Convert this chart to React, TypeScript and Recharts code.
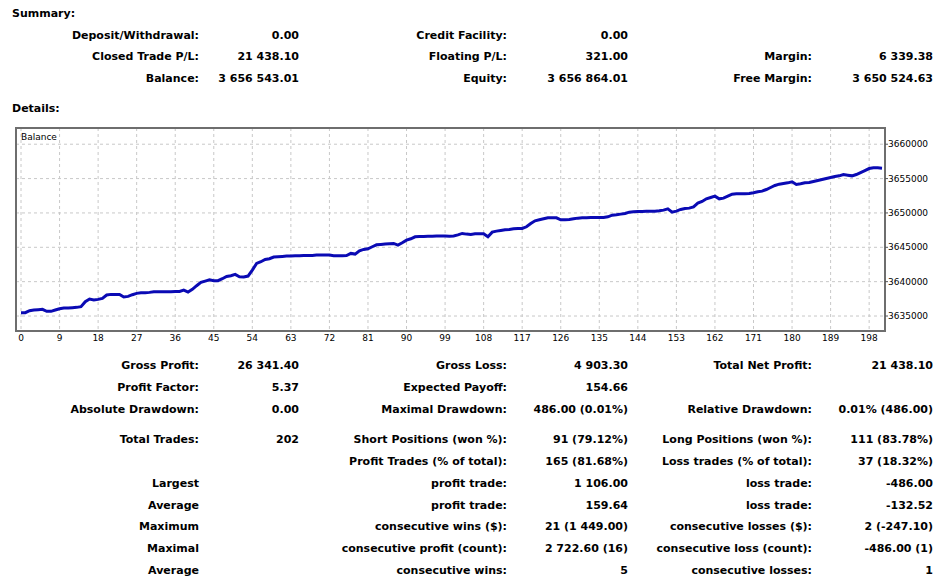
import React from 'react';
import { LineChart, Line, XAxis, YAxis, CartesianGrid, ReferenceArea } from 'recharts';

const font = "'DejaVu Sans', Verdana, sans-serif";

// balance after each closed trade
const balance: number[] = [
  3635485, 3635485, 3635775, 3635872, 3635920, 3635969, 3635678, 3635678, 3635872, 3636066,
  3636163, 3636163, 3636210, 3636260, 3636357, 3637083, 3637471, 3637326, 3637423, 3637568,
  3638052, 3638149, 3638149, 3638149, 3637762, 3637859, 3638101, 3638295, 3638392, 3638392,
  3638440, 3638537, 3638537, 3638537, 3638537, 3638537, 3638560, 3638580, 3638779, 3638488,
  3638876, 3639409, 3639893, 3640087, 3640281, 3640136, 3640136, 3640426, 3640766, 3640862,
  3641056, 3640717, 3640669, 3640814, 3641686, 3642655, 3642897, 3643237, 3643333, 3643576,
  3643624, 3643672, 3643721, 3643721, 3643770, 3643770, 3643818, 3643818, 3643818, 3643866,
  3643866, 3643866, 3643866, 3643770, 3643770, 3643770, 3643790, 3644109, 3644012, 3644496,
  3644690, 3644787, 3645078, 3645368, 3645417, 3645465, 3645514, 3645562, 3645320, 3645659,
  3646047, 3646240, 3646531, 3646580, 3646580, 3646600, 3646600, 3646628, 3646628, 3646628,
  3646600, 3646650, 3646800, 3647016, 3646919, 3646870, 3646967, 3646967, 3646967, 3646531,
  3647209, 3647355, 3647452, 3647549, 3647597, 3647694, 3647742, 3647742, 3647985, 3648469,
  3648857, 3649002, 3649147, 3649293, 3649293, 3649293, 3649002, 3649002, 3649050, 3649147,
  3649244, 3649293, 3649293, 3649320, 3649320, 3649341, 3649341, 3649438, 3649680, 3649729,
  3649826, 3649923, 3650116, 3650165, 3650213, 3650213, 3650240, 3650262, 3650262, 3650310,
  3650407, 3650601, 3650116, 3650262, 3650504, 3650649, 3650698, 3650892, 3651425, 3651667,
  3652054, 3652248, 3652442, 3652054, 3652151, 3652442, 3652733, 3652781, 3652781, 3652800,
  3652830, 3652927, 3653072, 3653169, 3653411, 3653702, 3653992, 3654186, 3654283, 3654380,
  3654525, 3654138, 3654235, 3654380, 3654428, 3654574, 3654719, 3654865, 3655010, 3655155,
  3655301, 3655397, 3655591, 3655494, 3655397, 3655591, 3655882, 3656173, 3656463, 3656560,
  3656560, 3656500,
];

const xTicks = [0, 9, 18, 27, 36, 45, 54, 63, 72, 81, 90, 99, 108, 117, 126, 135, 144, 153, 162, 171, 180, 189, 198];
const yTicks = [3635000, 3640000, 3645000, 3650000, 3655000, 3660000];

const summaryRows: string[][] = [
  ['Deposit/Withdrawal:', '0.00', 'Credit Facility:', '0.00', '', ''],
  ['Closed Trade P/L:', '21 438.10', 'Floating P/L:', '321.00', 'Margin:', '6 339.38'],
  ['Balance:', '3 656 543.01', 'Equity:', '3 656 864.01', 'Free Margin:', '3 650 524.63'],
];

const detailRows: string[][] = [
  ['Gross Profit:', '26 341.40', 'Gross Loss:', '4 903.30', 'Total Net Profit:', '21 438.10'],
  ['Profit Factor:', '5.37', 'Expected Payoff:', '154.66', '', ''],
  ['Absolute Drawdown:', '0.00', 'Maximal Drawdown:', '486.00 (0.01%)', 'Relative Drawdown:', '0.01% (486.00)'],
  ['Total Trades:', '202', 'Short Positions (won %):', '91 (79.12%)', 'Long Positions (won %):', '111 (83.78%)'],
  ['', '', 'Profit Trades (% of total):', '165 (81.68%)', 'Loss trades (% of total):', '37 (18.32%)'],
  ['Largest', '', 'profit trade:', '1 106.00', 'loss trade:', '-486.00'],
  ['Average', '', 'profit trade:', '159.64', 'loss trade:', '-132.52'],
  ['Maximum', '', 'consecutive wins ($):', '21 (1 449.00)', 'consecutive losses ($):', '2 (-247.10)'],
  ['Maximal', '', 'consecutive profit (count):', '2 722.60 (16)', 'consecutive loss (count):', '-486.00 (1)'],
  ['Average', '', 'consecutive wins:', '5', 'consecutive losses:', '1'],
];

// layout
const W = 947;
const colRight = [199, 299, 507, 628, 812, 933];
const summaryY = [35.5, 57, 78.5];
const detailY = [365.5, 387.5, 409.5, 439.5, 461.5, 483.5, 505.5, 527, 548.5, 570.5];
const xDomain = [-1.17, 201.7];
const yDomain = [3632820, 3662360];

const data = balance.map((b, i) => ({ trade: i, balance: b }));

const TextCell = ({ text, right, cy }: { text: string; right: number; cy: number }) => (
  <div style={{
    position: 'absolute', right: W - right, top: cy - 7, lineHeight: '14px', whiteSpace: 'nowrap',
  }}>{text}</div>
);

const Rows = ({ rows, ys }: { rows: string[][]; ys: number[] }) => (
  <>
    {rows.map((r, i) => r.map((t, j) => t ? (
      <TextCell key={`${i}-${j}`} text={t} right={colRight[j]} cy={ys[i]} />
    ) : null))}
  </>
);

const tickStyle = { fill: '#000', fontSize: 9, fontFamily: font, fontWeight: 'normal' as const };

export default function App() {
  return (
    <div style={{
      position: 'absolute', left: 0, top: 0, width: W, height: 581, overflow: 'hidden',
      background: '#fff', fontFamily: font, fontWeight: 'bold', fontSize: 11, color: '#000',
    }}>
      <div style={{ position: 'absolute', left: 12, top: 7, lineHeight: '14px' }}>Summary:</div>
      <Rows rows={summaryRows} ys={summaryY} />
      <div style={{ position: 'absolute', left: 12, top: 102, lineHeight: '14px' }}>Details:</div>

      <div style={{ position: 'absolute', left: 0, top: 120 }}>
        <LineChart width={W} height={231} data={data} margin={{ top: 8, right: 0, bottom: 0, left: 16 }}>
          <CartesianGrid strokeDasharray="3 3" stroke="#c8c8c8" />
          <XAxis
            dataKey="trade" type="number" domain={xDomain} ticks={xTicks} interval={0}
            allowDataOverflow axisLine={false} tickLine={false} tickSize={2} tickMargin={2}
            height={20} tick={tickStyle}
          />
          <YAxis
            orientation="right" type="number" domain={yDomain} ticks={yTicks} interval={0}
            allowDataOverflow axisLine={false} tickLine={{ stroke: '#555' }} tickSize={3} tickMargin={0}
            width={62} tick={tickStyle}
          />
          <ReferenceArea
            x1={xDomain[0]} x2={xDomain[1]} y1={yDomain[0]} y2={yDomain[1]}
            fill="none" fillOpacity={0} stroke="#6e6e6e" strokeWidth={2} ifOverflow="visible"
          />
          <Line
            type="linear" dataKey="balance" stroke="#0a0ab4" strokeWidth={3}
            dot={false} isAnimationActive={false}
          />
        </LineChart>
      </div>
      <div style={{ position: 'absolute', left: 21, top: 131, fontSize: 9, fontWeight: 'normal', lineHeight: '12px' }}>
        Balance
      </div>

      <Rows rows={detailRows} ys={detailY} />
    </div>
  );
}
